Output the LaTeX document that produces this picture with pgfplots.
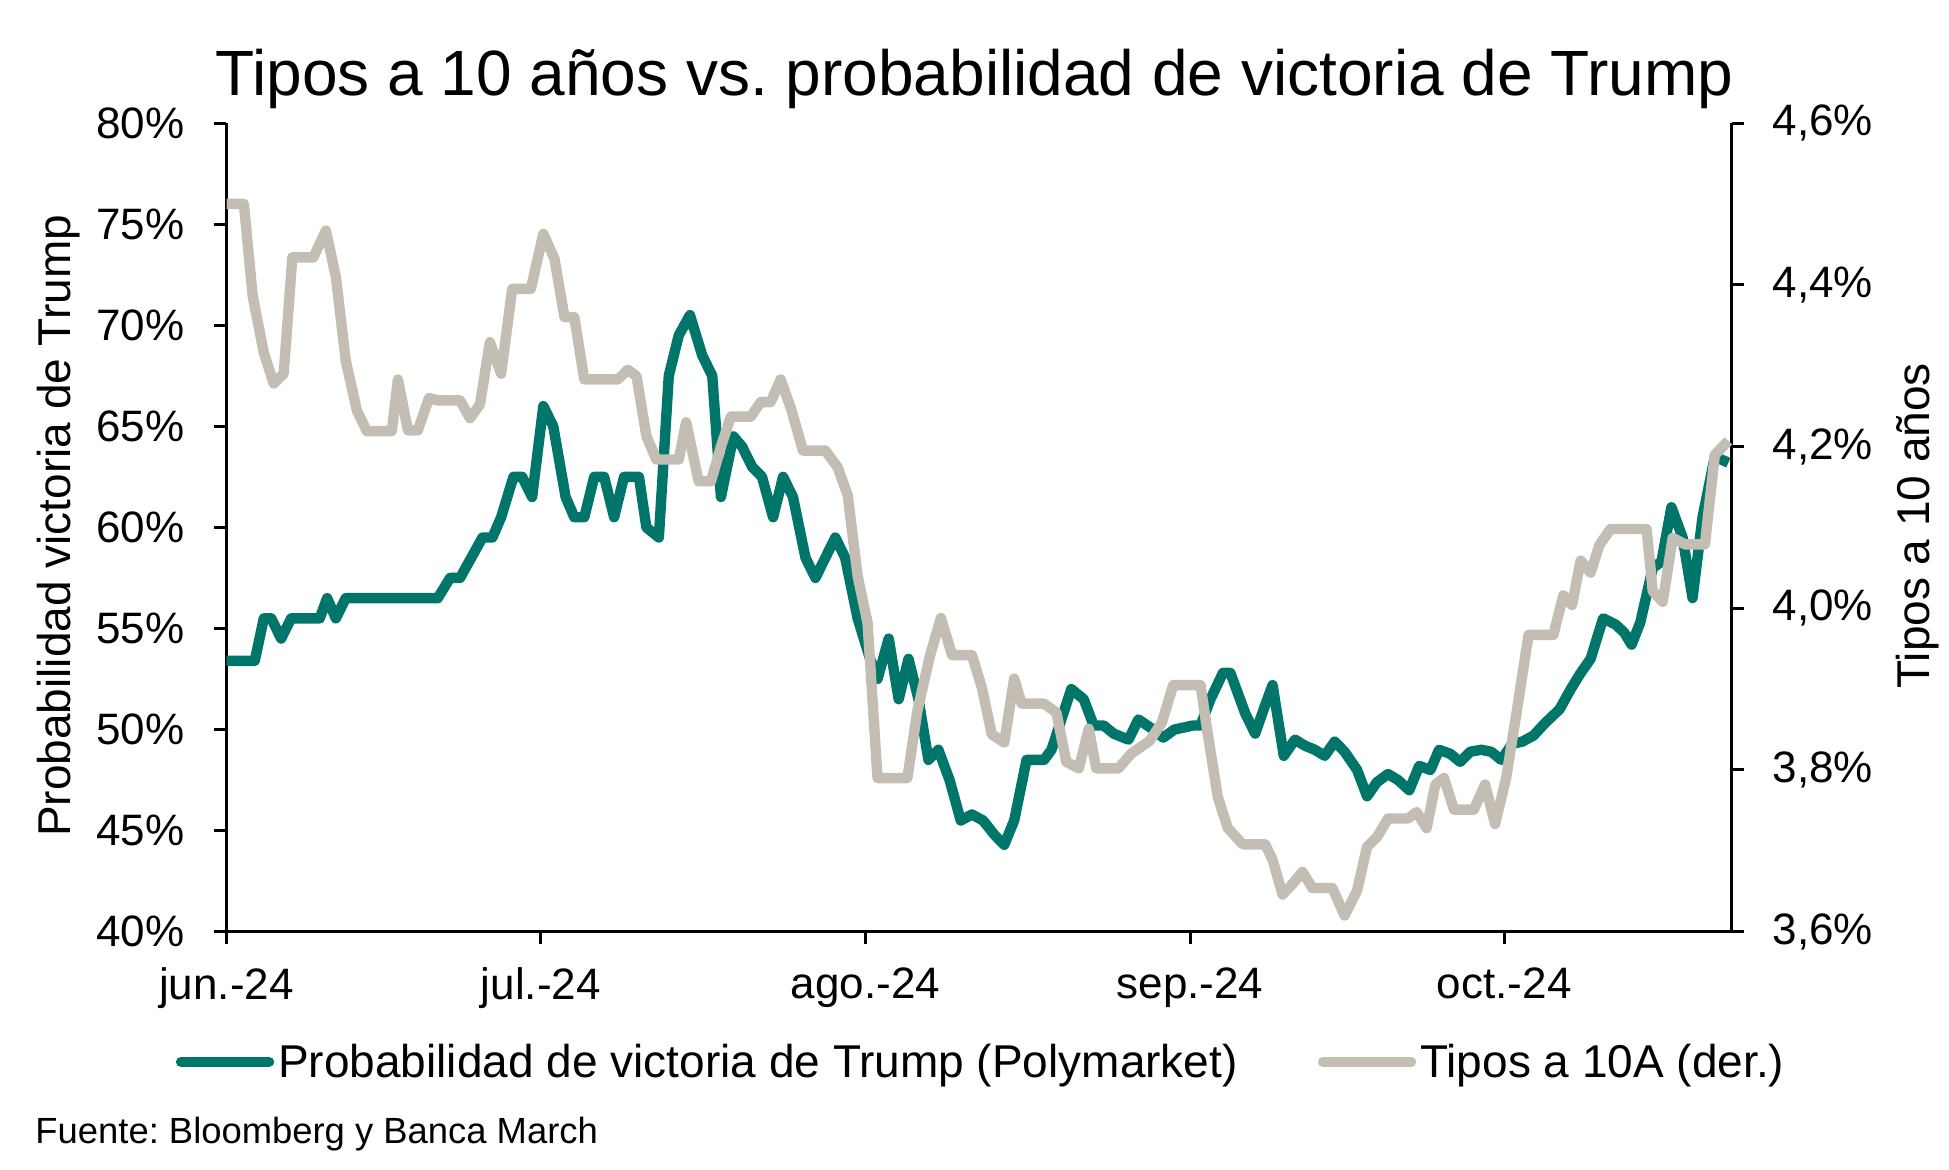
\documentclass[border=0pt]{standalone}
\usepackage{pgfplots}
\pgfplotsset{compat=1.18}
\usepackage{fontspec}
\setmainfont{Liberation Sans}
\frenchspacing
\definecolor{tealc}{RGB}{0,118,106}
\definecolor{grayc}{RGB}{196,189,179}
\newcommand{\tickfont}{\fontsize{22}{25}\selectfont}
\newcommand{\labfont}{\fontsize{23}{26}\selectfont}
\begin{document}
\begin{tikzpicture}
\useasboundingbox (-113.25pt,-119.15pt) rectangle (861.25pt,465.85pt);
\begin{axis}[
  scale only axis, width=752.5pt, height=404.3pt,
  xmin=0, xmax=143.7, ymin=40, ymax=80,
  axis x line*=bottom, axis y line*=left,
  axis line style={line width=1.5pt},
  major tick style={line width=1.5pt, black},
  major tick length=6pt, tick align=outside,
  xtick={0,30,61,92,122},
  xticklabels={jun.-24,jul.-24,ago.-24,sep.-24,oct.-24},
  ytick={40,45,50,55,60,65,70,75,80},
  yticklabels={40\%,45\%,50\%,55\%,60\%,65\%,70\%,75\%,80\%},
  ticklabel style={font=\tickfont},
  yticklabel style={xshift=-11.5pt},
  xticklabel style={yshift=-8.5pt},
  title={Tipos a 10 años vs. probabilidad de victoria de Trump},
  title style={font=\fontsize{32}{36}\selectfont, at={(axis description cs:0.497,1.019)}, anchor=base},
  ylabel={Probabilidad victoria de Trump},
  ylabel style={font=\labfont, at={(axis description cs:-0.1116,0.502)}, anchor=center},
  legend columns=2,
  legend style={draw=none, fill=none, font=\fontsize{23}{26}\selectfont, at={(axis description cs:0.502,-0.161)}, anchor=center,
    /tikz/every even column/.append style={column sep=38pt}},
  legend image code/.code={\draw[#1, line cap=round] (0pt,0pt) -- (44pt,0pt);},
  clip=false,
]
\addplot[tealc, line width=5.2pt, line join=round] coordinates {
(0,53.4)(2.7,53.4)(3.56,55.5)(4.27,55.5)(5.22,54.5)(6.17,55.5)(8.9,55.5)(9.61,56.5)(10.44,55.5)(11.39,56.5)
(20.17,56.5)(21.35,57.5)(22.3,57.5)(24.44,59.5)(25.39,59.5)(26.22,60.5)(27.4,62.5)(28.23,62.5)(29.18,61.5)
(30.25,66)(31.2,65)(32.38,61.5)(33.21,60.5)(34.16,60.5)(35.11,62.5)(36.06,62.5)(37.01,60.5)(37.96,62.5)
(39.38,62.5)(40.09,60)(41.28,59.5)(42.23,67.5)(43.18,69.5)(44.25,70.5)(45.43,68.5)(46.38,67.5)(47.21,61.5)
(48.4,64.5)(49.23,64)(50.18,63)(51.13,62.5)(52.19,60.5)(53.14,62.5)(54.09,61.5)(55.28,58.5)(56.23,57.5)
(57.18,58.5)(58.13,59.5)(59.07,58.5)(60.26,55.5)(61.45,53.5)(62.16,52.5)(63.23,54.5)(64.18,51.5)(65.12,53.5)
(66.07,51.5)(67.02,48.5)(67.97,49)(69.04,47.5)(70.11,45.5)(71.17,45.8)(72.24,45.5)(73.31,44.8)(74.26,44.3)
(75.21,45.5)(76.39,48.5)(78.06,48.5)(78.77,49)(80.66,52)(81.85,51.5)(82.8,50.2)(83.75,50.2)(84.7,49.8)
(86.12,49.5)(87.07,50.5)(88.49,50)(89.44,49.6)(90.51,50)(92.29,50.2)(93,50.2)(93.95,51.5)(95.14,52.8)
(95.85,52.8)(97.27,50.8)(98.22,49.8)(99.17,51.2)(99.88,52.2)(100.95,48.7)(102.02,49.5)(102.97,49.2)
(103.91,49)(104.86,48.7)(105.81,49.4)(106.76,48.9)(107.95,48)(108.9,46.7)(109.85,47.4)(110.91,47.8)
(111.86,47.5)(112.93,47)(113.88,48.2)(114.95,48)(115.78,49)(116.84,48.8)(117.79,48.4)(118.74,48.9)
(119.81,49)(120.76,48.9)(121.71,48.5)(122.78,49.3)(123.72,49.4)(124.79,49.7)(125.86,50.3)(127.28,51)
(128.35,52)(129.3,52.8)(130.25,53.5)(131.44,55.5)(132.62,55.2)(133.45,54.8)(134.16,54.2)(134.99,55.3)
(136.18,58)(137.01,58.3)(137.96,61)(139.03,59.5)(139.98,56.5)(140.93,60.5)(142.11,63.5)(143.4,63.2)
};
\addlegendentry{Probabilidad de victoria de Trump (Polymarket)}
\addlegendimage{grayc, line width=5.2pt}
\addlegendentry{Tipos a 10A (der.)}
\node[anchor=base west, font=\fontsize{18.2}{20}\selectfont, inner sep=0pt] at (axis description cs:-0.1272,-0.2622) {Fuente: Bloomberg y Banca March};
\end{axis}
\begin{axis}[
  scale only axis, width=752.5pt, height=404.3pt,
  xmin=0, xmax=143.7, ymin=3.6, ymax=4.6,
  axis x line=none, axis y line*=right,
  axis line style={line width=1.5pt},
  major tick style={line width=1.5pt, black},
  major tick length=6pt, tick align=outside,
  ytick={3.6,3.8,4.0,4.2,4.4,4.6},
  yticklabels={{3,6\%},{3,8\%},{4,0\%},{4,2\%},{4,4\%},{4,6\%}},
  ticklabel style={font=\tickfont},
  yticklabel style={xshift=11pt},
  ylabel={Tipos a 10 años},
  ylabel style={font=\labfont, at={(axis description cs:1.1239,0.502)}, anchor=center, rotate=0},
  clip=false,
]
\addplot[grayc, line width=5.2pt, line join=round] coordinates {
(0,4.5)(1.66,4.5)(2.49,4.387)(3.56,4.316)(4.51,4.278)(5.46,4.29)(6.29,4.434)(8.3,4.434)(9.49,4.467)
(10.44,4.41)(11.39,4.306)(12.46,4.244)(13.4,4.219)(15.78,4.219)(16.37,4.283)(17.32,4.22)(18.27,4.22)
(19.34,4.26)(20.17,4.257)(22.3,4.257)(23.25,4.235)(24.2,4.252)(25.15,4.329)(26.22,4.29)(27.28,4.395)
(29.06,4.395)(30.25,4.463)(31.32,4.432)(32.27,4.36)(33.21,4.36)(34.16,4.283)(37.37,4.283)(38.32,4.295)
(39.15,4.287)(40.09,4.213)(41.04,4.184)(43.18,4.184)(43.89,4.23)(45.08,4.157)(46.26,4.157)(47.21,4.2)
(48.16,4.237)(50.06,4.237)(51.01,4.255)(51.96,4.255)(52.91,4.283)(53.97,4.244)(55.04,4.195)(57.18,4.195)
(58.36,4.174)(59.31,4.14)(60.26,4.04)(61.21,3.982)(62.16,3.79)(65.01,3.79)(65.95,3.872)(67.14,3.94)
(68.21,3.988)(69.28,3.942)(71.17,3.942)(72.12,3.902)(73.07,3.844)(74.26,3.834)(75.21,3.913)(75.92,3.882)
(78.06,3.882)(79.24,3.871)(80.19,3.81)(81.38,3.802)(82.33,3.851)(83.04,3.802)(85.17,3.802)(86.36,3.82)
(88.14,3.836)(89.32,3.859)(90.39,3.905)(93,3.905)(93.71,3.843)(94.66,3.766)(95.61,3.728)(97.03,3.708)
(99.17,3.708)(99.88,3.689)(100.83,3.646)(101.78,3.659)(102.73,3.674)(103.68,3.654)(105.58,3.654)
(106.76,3.62)(107.95,3.651)(108.9,3.705)(109.85,3.717)(110.91,3.74)(112.81,3.74)(113.64,3.748)
(114.59,3.728)(115.42,3.782)(116.25,3.79)(117.2,3.751)(119.1,3.751)(120.17,3.782)(121.12,3.733)
(122.18,3.79)(123.13,3.867)(124.32,3.967)(126.69,3.967)(127.64,4.016)(128.47,4.004)(129.3,4.059)
(130.25,4.044)(131.08,4.078)(132.15,4.098)(135.59,4.098)(136.18,4.021)(137.13,4.008)(138.08,4.087)
(139.26,4.079)(141.16,4.079)(142.11,4.19)(143.4,4.207)
};
\end{axis}
\end{tikzpicture}
\end{document}
